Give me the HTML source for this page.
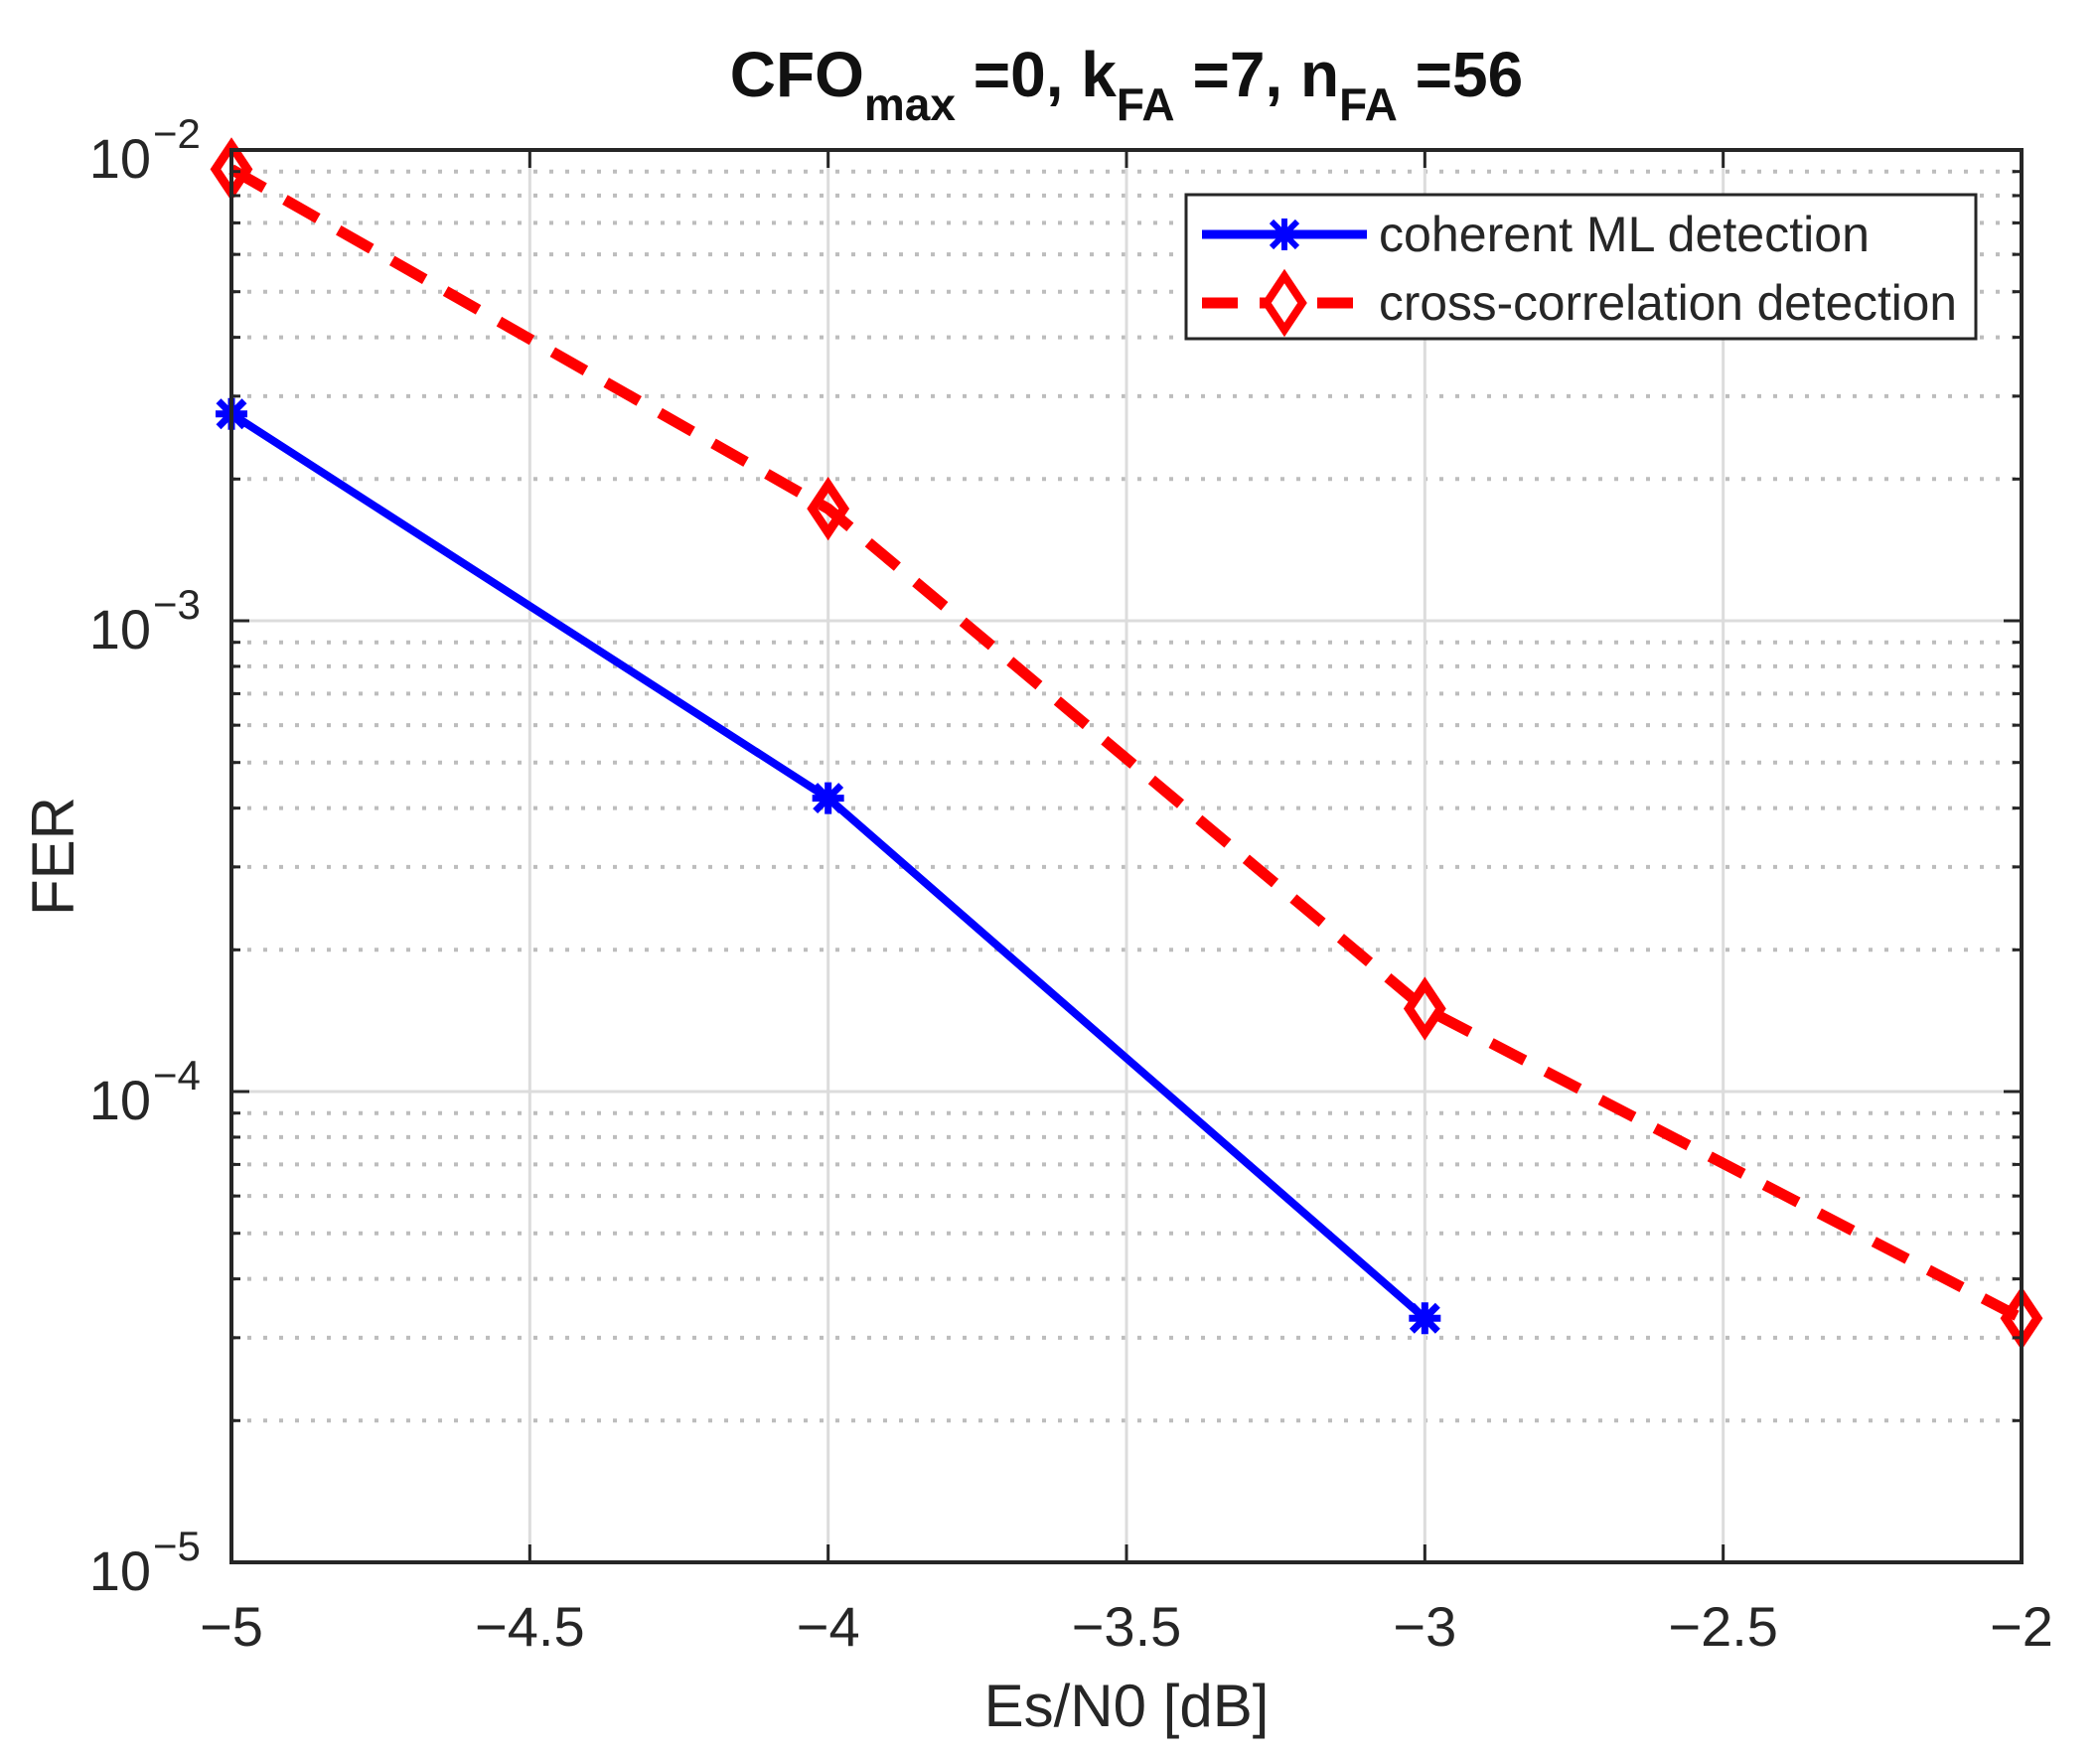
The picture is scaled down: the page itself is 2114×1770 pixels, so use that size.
<!DOCTYPE html>
<html><head><meta charset="utf-8"><style>
html,body{margin:0;padding:0;background:#fff;}
svg{display:block;font-family:"Liberation Sans",Arial,sans-serif;}
</style></head><body>
<svg id="chart" width="2114" height="1770" viewBox="0 0 2114 1770" xmlns="http://www.w3.org/2000/svg">
<g id="grid"></g>
<g id="series"></g>
<g id="axes"></g>
<text x="1134" y="97" text-anchor="middle" font-size="64" font-weight="bold" fill="#111">CFO<tspan font-size="46" dy="24">max</tspan><tspan dy="-24"> =0, k</tspan><tspan font-size="46" dy="24">FA</tspan><tspan dy="-24"> =7, n</tspan><tspan font-size="46" dy="24">FA</tspan><tspan dy="-24"> =56</tspan></text>
<text x="1134" y="1738" text-anchor="middle" font-size="60" fill="#262626">Es/N0 [dB]</text>
<text transform="translate(74,862) rotate(-90)" text-anchor="middle" font-size="60" fill="#262626">FER</text>
<g>
<rect x="1194" y="196" width="795" height="145" fill="#fff" stroke="#262626" stroke-width="3"/>
<g>
<line x1="1210" y1="236" x2="1376" y2="236" stroke="#0000ff" stroke-width="9"/>
<path d="M1280 223 L1306 249 M1306 223 L1280 249 M1293 220 L1293 252 M1277 236 L1309 236" stroke="#0000ff" stroke-width="6"/>
<text x="1388" y="253" font-size="50" fill="#262626" textLength="494" lengthAdjust="spacingAndGlyphs">coherent ML detection</text>
</g>
<g>
<line x1="1210" y1="305" x2="1376" y2="305" stroke="#ff0000" stroke-width="11" stroke-dasharray="36,22"/>
<path d="M1293 278 L1311 305 L1293 332 L1275 305 Z" fill="#fff" stroke="#ff0000" stroke-width="8"/>
<text x="1388" y="322" font-size="50" fill="#262626" textLength="582" lengthAdjust="spacingAndGlyphs">cross-correlation detection</text>
</g>
</g>
</svg>
<script>
const xCategories = [-5, -4, -3, -2];
const coherentX = [-5, -4, -3];
const coherentFER = [2.75e-3, 4.2e-4, 3.3e-5];
const crossX = [-5, -4, -3, -2];
const crossFER = [9.1e-3, 1.73e-3, 1.5e-4, 3.3e-5];
const xTickValues = [-5, -4.5, -4, -3.5, -3, -2.5, -2];
const xTickLabels = ["\u22125", "\u22124.5", "\u22124", "\u22123.5", "\u22123", "\u22122.5", "\u22122"];
const yDecades = [-5, -4, -3, -2];

const L = 233, R = 2035, T = 151, B = 1573;
const xMin = -5, xMax = -2, yMinExp = -5, yMaxExp = -2;
const NS = "http://www.w3.org/2000/svg";
function xs(v){ return L + (v - xMin) / (xMax - xMin) * (R - L); }
function ys(v){ return B - (Math.log10(v) - yMinExp) / (yMaxExp - yMinExp) * (B - T); }
function mk(tag, attrs, parent){
  const e = document.createElementNS(NS, tag);
  for (const k in attrs) e.setAttribute(k, attrs[k]);
  parent.appendChild(e);
  return e;
}
const grid = document.getElementById('grid');
const axes = document.getElementById('axes');
const series = document.getElementById('series');

for (let d = yMinExp; d < yMaxExp; d++) {
  for (let m = 2; m <= 9; m++) {
    const y = ys(m * Math.pow(10, d));
    const g = mk('line', {x1: L, x2: R, y1: y, y2: y, stroke: '#bdbdbd', 'stroke-width': 4, 'stroke-dasharray': '4,12'}, grid);
    
    
    const t1 = mk('line', {x1: L, x2: L + 9, y1: y, y2: y, stroke: '#262626', 'stroke-width': 3}, axes);
    
    
    const t2 = mk('line', {x1: R - 9, x2: R, y1: y, y2: y, stroke: '#262626', 'stroke-width': 3}, axes);
    
    
  }
}
yDecades.forEach(d => {
  const y = ys(Math.pow(10, d));
  const g = mk('line', {x1: L, x2: R, y1: y, y2: y, stroke: '#dcdcdc', 'stroke-width': 3}, grid);
  
  
  const t1 = mk('line', {x1: L, x2: L + 18, y1: y, y2: y, stroke: '#262626', 'stroke-width': 3}, axes);
  
  
  const t2 = mk('line', {x1: R - 18, x2: R, y1: y, y2: y, stroke: '#262626', 'stroke-width': 3}, axes);
  
  
  const tx = mk('text', {x: 152, y: y + 28, 'text-anchor': 'end', 'font-size': 56, fill: '#262626'}, axes);
  
  
  tx.textContent = '10';
  const sup = mk('tspan', {x: 154, y: y - 2, 'font-size': 42, 'text-anchor': 'start'}, tx);
  sup.textContent = '\u2212' + Math.abs(d);
});
xTickValues.forEach((v, i) => {
  const x = xs(v);
  const g = mk('line', {x1: x, x2: x, y1: T, y2: B, stroke: '#dcdcdc', 'stroke-width': 3}, grid);
  
  
  const t1 = mk('line', {x1: x, x2: x, y1: B - 18, y2: B, stroke: '#262626', 'stroke-width': 3}, axes);
  
  
  const t2 = mk('line', {x1: x, x2: x, y1: T, y2: T + 18, stroke: '#262626', 'stroke-width': 3}, axes);
  
  
  const tx = mk('text', {x: x, y: 1657, 'text-anchor': 'middle', 'font-size': 56, fill: '#262626'}, axes);
  
  
  tx.textContent = xTickLabels[i];
});
const frame = mk('rect', {x: L, y: T, width: R - L, height: B - T, fill: 'none', stroke: '#262626', 'stroke-width': 4}, axes);



const bpts = coherentX.map((v, i) => xs(v) + ',' + ys(coherentFER[i])).join(' ');
const bl = mk('polyline', {points: bpts, fill: 'none', stroke: '#0000ff', 'stroke-width': 8}, series);


coherentX.forEach((v, i) => {
  const x = xs(v), y = ys(coherentFER[i]);
  const m = mk('path', {d: `M${x-13} ${y-13} L${x+13} ${y+13} M${x+13} ${y-13} L${x-13} ${y+13} M${x} ${y-16} L${x} ${y+16} M${x-16} ${y} L${x+16} ${y}`, stroke: '#0000ff', 'stroke-width': 7}, series);
  
  
});
const rpts = crossX.map((v, i) => xs(v) + ',' + ys(crossFER[i])).join(' ');
const rl = mk('polyline', {points: rpts, fill: 'none', stroke: '#ff0000', 'stroke-width': 11, 'stroke-dasharray': '38,24'}, series);


crossX.forEach((v, i) => {
  const x = xs(v), y = ys(crossFER[i]);
  const m = mk('path', {d: `M${x} ${y-24} L${x+16} ${y} L${x} ${y+24} L${x-16} ${y} Z`, fill: 'none', stroke: '#ff0000', 'stroke-width': 9}, series);
  
  
});
</script>
</body></html>
